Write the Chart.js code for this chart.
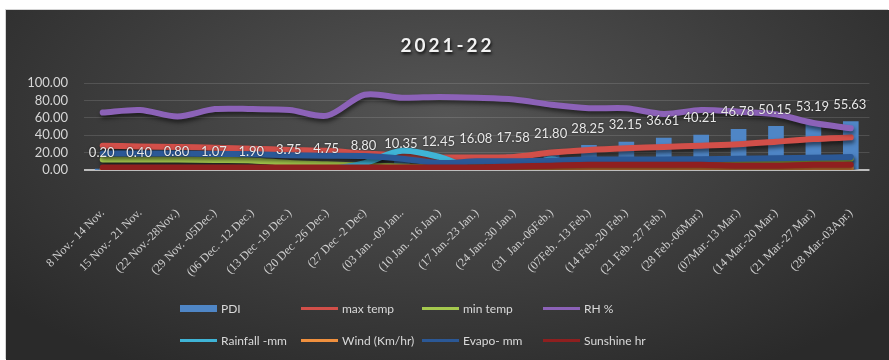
<!DOCTYPE html>
<html>
<head>
<meta charset="utf-8">
<script src="https://cdn.jsdelivr.net/npm/chart.js@4.4.1/dist/chart.umd.min.js"></script>
<style>
  html, body { margin: 0; padding: 0; background: #fff; }
  body { width: 889px; height: 360px; overflow: hidden; position: relative; }
  .card {
    position: absolute; left: 6px; top: 10px; width: 883px; height: 350px;
    background: radial-gradient(ellipse 65% 85% at 50% 30%, #555 0%, #424242 45%, #2a2a2a 100%);
    box-shadow: -1px -1px 0 #d4d4d4;
  }
  .wrap { position: absolute; left: 0; top: 0; width: 883px; height: 350px; }
  .title {
    position: absolute; left: 0; width: 100%; top: 23px; text-align: center;
    font: bold 19px Lato, sans-serif; letter-spacing: 3px; color: #f2f2f2;
    text-shadow: 1px 2px 3px rgba(0,0,0,.8);
  }
  .legend {
    position: absolute; left: 174px; top: 289px;
    display: grid; grid-template-columns: repeat(4, 121px); row-gap: 13px;
    font: 12px Lato, sans-serif; color: #d9d9d9;
  }
  .legend-item { display: flex; align-items: center; height: 19px; }
  .legend-swatch { width: 37px; margin-right: 4px; }
</style>
</head>
<body>
<div class="card">
  <div class="wrap"><canvas id="chart"></canvas></div>
  <div class="title">2021-22</div>
  <div class="legend" id="legend"></div>
</div>
<script>
// ===== Data =====
const weeks = [
  '8 Nov.- 14 Nov.', '15 Nov.- 21 Nov.', '(22 Nov.-28Nov.)', '(29 Nov. -05Dec.)',
  '(06 Dec. -12 Dec.)', '(13 Dec -19 Dec.)', '(20 Dec -26 Dec.)', '(27 Dec -2 Dec)',
  '(03 Jan. -09 Jan..', '(10 Jan. -16 Jan.)', '(17 Jan.-23 Jan.)', '(24 Jan.-30 Jan.)',
  '(31  Jan.-06Feb.)', '(07Feb. -13 Feb.)', '(14 Feb.-20 Feb.)', '(21 Feb. -27 Feb.)',
  '(28 Feb.-06Mar.)', '(07Mar.-13 Mar.)', '(14 Mar.-20 Mar.)', '(21 Mar.-27 Mar.)',
  '(28 Mar.-03Apr.)',
];
const pdi      = [0.20, 0.40, 0.80, 1.07, 1.90, 3.75, 4.75, 8.80, 10.35, 12.45, 16.08, 17.58, 21.80, 28.25, 32.15, 36.61, 40.21, 46.78, 50.15, 53.19, 55.63];
const maxTemp  = [28, 27, 26.5, 25.5, 24.5, 23, 22, 19, 16.5, 14.5, 14.5, 15, 20, 23, 25, 26.5, 28, 29.5, 32.5, 35.5, 37.5];
const minTemp  = [12, 12, 12, 11.5, 11, 8, 6.5, 5, 4, 3, 3, 3, 4, 5, 6, 7, 8, 9, 10, 12, 13];
const rh       = [66, 69, 61.5, 70, 70, 69, 62.5, 86.5, 83, 84, 83, 81, 75, 71, 71, 64.5, 69, 67, 64, 54, 48];
const rainfall = [0, 0, 0, 0, 0, 0, 1, 8, 22, 15, 0, 0, 12, 0, 0, 0, 0, 0, 0, 0, 0];
const wind     = [1, 2, 1, 1, 1, 1, 1, 1, 1, 1, 1, 1, 1, 2, 2, 2, 2, 2, 2, 2, 2];
const evapo    = [19, 19, 19, 18.5, 18, 17, 16.5, 16, 13, 8, 10, 10, 11, 12, 12, 12, 12.5, 13, 13.5, 14, 15];
const sunshine = [3, 3, 3, 3, 3, 3, 3, 3, 3, 3, 3, 4, 5, 6, 6, 6, 6, 5, 5, 6, 6];

const yTicks = [0, 20, 40, 60, 80, 100];

// ===== Plugins =====
const lineShadow = {
  id: 'lineShadow',
  beforeDatasetDraw(chart, args) {
    if (chart.data.datasets[args.index].type !== 'line') return;
    const ctx = chart.ctx;
    ctx.save();
    ctx.shadowColor = 'rgba(0,0,0,0.55)';
    ctx.shadowBlur = 4;
    ctx.shadowOffsetX = 1;
    ctx.shadowOffsetY = 3;
  },
  afterDatasetDraw(chart, args) {
    if (chart.data.datasets[args.index].type !== 'line') return;
    chart.ctx.restore();
  },
};

const barLabels = {
  id: 'barLabels',
  afterDatasetsDraw(chart) {
    const meta = chart.getDatasetMeta(0);
    const ctx = chart.ctx;
    ctx.save();
    ctx.font = '13px Lato';
    ctx.fillStyle = '#e8e8e8';
    ctx.textAlign = 'center';
    ctx.textBaseline = 'middle';
    ctx.shadowColor = 'rgba(0,0,0,0.6)';
    ctx.shadowBlur = 2;
    meta.data.forEach((bar, i) => {
      ctx.fillText(pdi[i].toFixed(2), bar.x - 1, bar.y - 17);
    });
    ctx.restore();
  },
};

// ===== Chart =====
function line(label, data, color, order) {
  return {
    type: 'line', label, data, order,
    borderColor: color, backgroundColor: color,
    borderWidth: 6, pointRadius: 0, tension: 0.3,
    borderCapStyle: 'round', borderJoinStyle: 'round',
  };
}

const datasets = [
  { type: 'bar', label: 'PDI', data: pdi, order: 100,
    backgroundColor: '#4f86c6', borderWidth: 0, barThickness: 15 },
  line('max temp', maxTemp, '#d24f49', 7),
  line('min temp', minTemp, '#a5c94e', 6),
  line('RH %', rh, '#8c62b8', 5),
  line('Rainfall -mm', rainfall, '#3fb4d6', 4),
  line('Wind (Km/hr)', wind, '#f0903e', 3),
  line('Evapo- mm', evapo, '#2b5896', 2),
  line('Sunshine hr', sunshine, '#8f1f1f', 1),
];

const chart = new Chart(document.getElementById('chart'), {
  type: 'bar',
  data: { labels: weeks, datasets },
  options: {
    responsive: true, maintainAspectRatio: false, animation: false,
    layout: { padding: { top: 73, right: 1, bottom: 0, left: 0 } },
    plugins: { legend: { display: false }, tooltip: { enabled: false } },
    scales: {
      x: {
        grid: { display: false },
        border: { display: false },
        ticks: {
          color: '#cfcfcf', font: { family: 'Liberation Serif', size: 12 },
          maxRotation: 45, minRotation: 45, autoSkip: false, padding: 28,
        },
        afterFit: (s) => { s.height = 190; },
      },
      y: {
        min: 0, max: 100,
        afterBuildTicks: (s) => { s.ticks = yTicks.map((v) => ({ value: v })); },
        grid: {
          drawTicks: false,
          color: (c) => (c.tick && c.tick.value === 0 ? '#bdbdbd' : 'rgba(255,255,255,0.13)'),
          lineWidth: (c) => (c.tick && c.tick.value === 0 ? 2 : 1),
        },
        border: { display: false },
        ticks: {
          color: '#d6d6d6', font: { family: 'Lato', size: 13 }, padding: 16,
          autoSkip: false,
          callback: (v) => Number(v).toFixed(2),
        },
        afterFit: (s) => { s.width = 78; },
      },
    },
  },
  plugins: [lineShadow, barLabels],
});

// ===== Legend =====
const legend = document.getElementById('legend');
legend.innerHTML = datasets.map((d) => {
  const sw = d.type === 'bar'
    ? `<div class="legend-swatch" style="height:7px;background:${d.backgroundColor}"></div>`
    : `<div class="legend-swatch" style="height:2.5px;background:${d.borderColor}"></div>`;
  return `<div class="legend-item">${sw}<span>${d.label}</span></div>`;
}).join('');
</script>
</body>
</html>
